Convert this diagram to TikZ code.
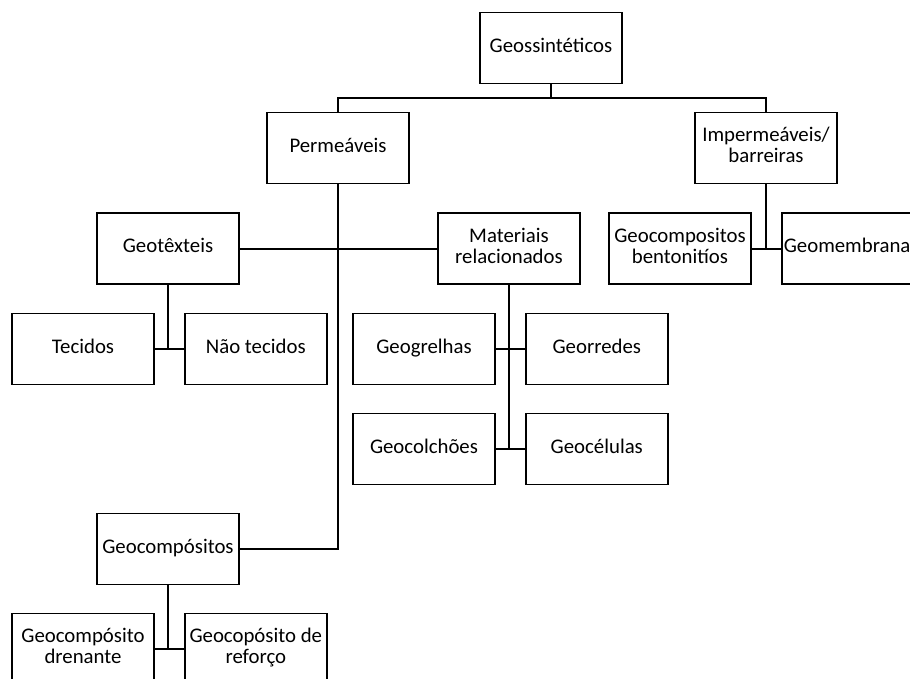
\documentclass[tikz,border=0pt]{standalone}
\usepackage{fontspec}
\setmainfont{Carlito}
\usepackage{tikz}
\usetikzlibrary{positioning}

\begin{document}
\begin{tikzpicture}[x=1pt, y=-1pt,
        cbox/.style={draw, line width=1.8pt, align=center, minimum width=142pt, minimum height=71pt,
                     inner sep=1pt, font=\fontsize{20.8}{21}\selectfont,
                     execute at begin node=\strut, execute at end node=\strut},
        lnk/.style={line width=2pt}
    ]
    \useasboundingbox (0,0) rectangle (910,679);
    \clip (0,0) rectangle (910,679);
    \node[cbox] (geo) at (551,48) {Geossintéticos};
    \node[cbox] (perm) at (338,148) {Permeáveis};
    \node[cbox] (imp) at (766,148) {Impermeáveis/\\barreiras};
    \node[cbox] (gtex) at (168,248.5) {Geotêxteis};
    \node[cbox] (mat) at (509,248.5) {Materiais\\relacionados};
    \node[cbox] (bent) at (680,248.5) {Geocompositos\\bentonitíos};
    \node[cbox, right=29pt of bent, align=left, text width=138pt] (memb) {Geomembrana};
    \node[cbox] (tec) at (83,349) {Tecidos};
    \node[cbox, right=29pt of tec] (ntec) {Não tecidos};
    \node[cbox] (grel) at (424,349) {Geogrelhas};
    \node[cbox, right=29pt of grel] (gred) {Georredes};
    \node[cbox] (gcol) at (424,449) {Geocolchões};
    \node[cbox, right=29pt of gcol] (gcel) {Geocélulas};
    \node[cbox] (gcomp) at (168,549) {Geocompósitos};
    \node[cbox] (dren) at (83,649) {Geocompósito\\drenante};
    \node[cbox, right=29pt of dren] (ref) {Geocopósito de\\reforço};
    \coordinate (top) at (551,98);
    \draw[lnk] (geo) -- (top);
    \draw[lnk] (perm.north) |- (top) -| (imp.north);
    \draw[lnk] (perm.south) |- (gcomp.east);
    \draw[lnk] (gtex.east) -- (mat.west);
    \draw[lnk] (gtex.south) |- (tec.east);
    \draw[lnk] (gtex.south) |- (ntec.west);
    \draw[lnk] (mat.south) |- (gcol.east);
    \draw[lnk] (mat.south) |- (gcel.west);
    \draw[lnk] (grel.east) -- (gred.west);
    \draw[lnk] (imp.south) |- (bent.east);
    \draw[lnk] (imp.south) |- (memb.west);
    \draw[lnk] (gcomp.south) |- (dren.east);
    \draw[lnk] (gcomp.south) |- (ref.west);
    \end{tikzpicture}
\end{document}
